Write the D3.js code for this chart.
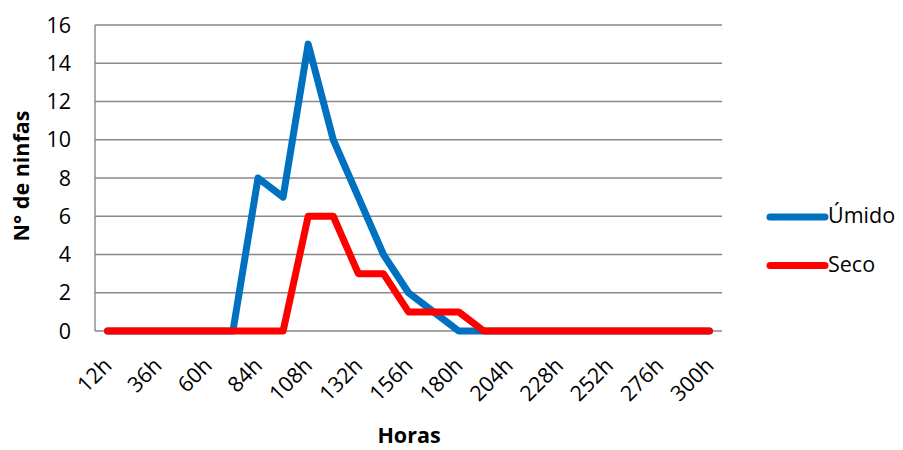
<!DOCTYPE html>
<html><head><meta charset="utf-8">
<script src="https://cdn.jsdelivr.net/npm/d3@7"></script>
<style>body{margin:0;background:#fff}svg{display:block}</style>
</head><body><svg id="c" width="903" height="450"></svg>
<script>
const categories = ["12h","24h","36h","48h","60h","72h","84h","96h","108h","120h","132h","144h","156h","168h","180h","192h","204h","216h","228h","240h","252h","264h","276h","288h","300h"];
const umido = [0,0,0,0,0,0,8,7,15,10,7,4,2,1,0,0,0,0,0,0,0,0,0,0,0];
const seco  = [0,0,0,0,0,0,0,0,6,6,3,3,1,1,1,0,0,0,0,0,0,0,0,0,0];
const yTicks = [0,2,4,6,8,10,12,14,16];
const shownLabels = ["12h","36h","60h","84h","108h","132h","156h","180h","204h","228h","252h","276h","300h"];
const seriesNames = ["Úmido","Seco"];
const colors = ["#0070C0","#FF0000"];

const svg = d3.select("#c");
const font = "Open Sans, Noto Sans, sans-serif";
const fs = 21.5;
const x = d3.scaleBand().domain(categories).range([95, 722]);
const y = d3.scaleLinear().domain([0,16]).range([331, 25]);
const cx = d => x(d) + x.bandwidth()/2;

// gridlines
svg.append("g").selectAll("line").data(yTicks).join("line")
  .attr("x1", 95).attr("x2", 722)
  .attr("y1", d => y(d)).attr("y2", d => y(d))
  .attr("stroke", "#888888").attr("stroke-width", 1.4);
// left axis
svg.append("line").attr("x1",95).attr("x2",95).attr("y1",y(16)).attr("y2",y(0))
  .attr("stroke","#888888").attr("stroke-width",1.4);

// y labels
svg.append("g").selectAll("text").data(yTicks).join("text")
  .attr("x", 71).attr("y", d => y(d)).attr("dy","0.36em")
  .attr("text-anchor","end").attr("font-family",font).attr("font-size",fs)
  .attr("fill","#000").text(d => d);

// x labels
svg.append("g").selectAll("text").data(shownLabels).join("text")
  .attr("transform", d => `translate(${cx(d)+5.5},${y(0)+36}) rotate(-45)`)
  .attr("text-anchor","end")
  .attr("font-family",font).attr("font-size",fs).attr("fill","#000").text(d => d);

// lines
const line = d3.line().x((d,i) => cx(categories[i])).y(d => y(d));
[umido, seco].forEach((s, k) => {
  svg.append("path").attr("d", line(s)).attr("fill","none")
    .attr("stroke", colors[k]).attr("stroke-width", 7)
    .attr("stroke-linejoin","round").attr("stroke-linecap","round");
});

// axis titles
svg.append("text").attr("transform","translate(29,176) rotate(-90)")
  .attr("text-anchor","middle").attr("font-family",font).attr("font-weight","bold")
  .attr("font-size",fs).text("N° de ninfas");
svg.append("text").attr("x",409).attr("y",443).attr("text-anchor","middle")
  .attr("font-family",font).attr("font-weight","bold").attr("font-size",fs).text("Horas");

// legend
const lg = svg.append("g");
seriesNames.forEach((n, k) => {
  const ly = 217 + k*48.5;
  lg.append("line").attr("x1",770).attr("x2",825).attr("y1",ly).attr("y2",ly)
    .attr("stroke",colors[k]).attr("stroke-width",7).attr("stroke-linecap","round");
  lg.append("text").attr("x",828).attr("y",ly).attr("dy","0.3em")
    .attr("font-family",font).attr("font-size",fs).text(n);
});
</script></body></html>
